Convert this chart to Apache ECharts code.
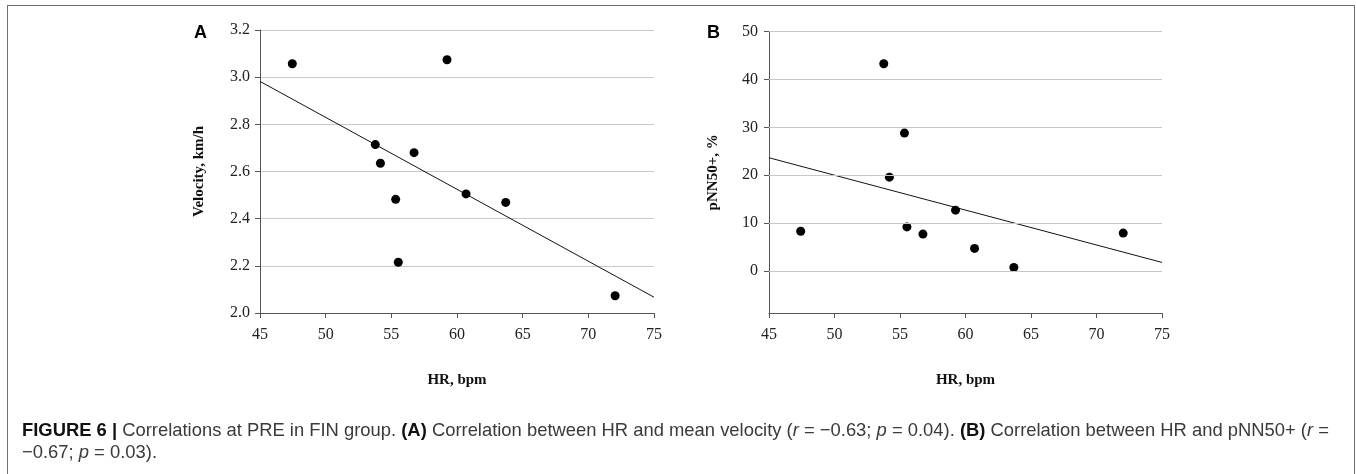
<!DOCTYPE html>
<html>
<head>
<meta charset="utf-8">
<script src="https://cdn.jsdelivr.net/npm/echarts@6/dist/echarts.min.js"></script>
<style>
  html, body { margin: 0; padding: 0; background: #fff; }
  #wrap { position: relative; width: 1357px; height: 474px; overflow: hidden; }
  #frame { position: absolute; left: 7px; top: 5px; width: 1348px; height: 520px; border: 1.5px solid #707070; box-sizing: border-box; }
  #chart { position: absolute; left: 0; top: 0; width: 1357px; height: 474px; }
  #caption { position: absolute; left: 22px; top: 419px; width: 1340px; white-space: nowrap; font-family: "Liberation Sans", Arial, sans-serif; font-size: 18.4px; line-height: 22px; color: #3a3a3a; }
  #caption b { color: #111; }
</style>
</head>
<body>
<div id="wrap">
  <div id="frame"></div>
  <div id="chart"></div>
  <div id="caption"><b>FIGURE 6 |</b> Correlations at PRE in FIN group. <b>(A)</b> Correlation between HR and mean velocity (<i>r</i> = −0.63; <i>p</i> = 0.04). <b>(B)</b> Correlation between HR and pNN50+ (<i>r</i> =<br>−0.67; <i>p</i> = 0.03).</div>
</div>
<script>
// ---- Data ----
const hrA = [47.46, 59.24, 53.78, 54.17, 56.73, 55.33, 55.53, 60.69, 63.71, 72.04];
const velocity = [3.057, 3.074, 2.714, 2.635, 2.680, 2.482, 2.215, 2.505, 2.469, 2.073];
const hrB = [47.42, 53.76, 55.34, 54.19, 55.53, 56.75, 59.24, 60.69, 63.69, 72.04];
const pnn50 = [8.3, 43.3, 28.8, 19.6, 9.2, 7.7, 12.7, 4.7, 0.7, 7.9];
const trendAx = [45, 75];
const trendAy = [2.982, 2.067];
const trendBx = [45, 75];
const trendBy = [23.65, 1.77];
const yTicksB = [0, 10, 20, 30, 40, 50];

const zip = (a, b) => a.map((v, i) => [v, b[i]]);

const serif = '"Liberation Serif", "Times New Roman", serif';
const axisColor = '#555';
const gridColor = '#c8c8c8';

function xAxisCfg(gridIndex) {
  return {
    type: 'value', gridIndex, min: 45, max: 75, interval: 5,
    name: 'HR, bpm', nameLocation: 'middle', nameGap: 60,
    nameTextStyle: { fontFamily: serif, fontWeight: 'bold', fontSize: 15, color: '#111' },
    axisLine: { show: true, onZero: false, lineStyle: { color: axisColor, width: 1 } },
    axisTick: { show: true, inside: false, length: 5, lineStyle: { color: axisColor } },
    axisLabel: { fontFamily: serif, fontSize: 16, color: '#222', margin: 14 },
    splitLine: { show: false }
  };
}

const option = {
  animation: false,
  grid: [
    { left: 260, top: 30, width: 394, height: 283 },
    { left: 769, top: 31.7, width: 393, height: 281.3 }
  ],
  xAxis: [xAxisCfg(0), xAxisCfg(1)],
  yAxis: [
    {
      type: 'value', gridIndex: 0, min: 2.0, max: 3.2, interval: 0.2,
      name: 'Velocity, km/h', nameLocation: 'middle', nameGap: 53,
      nameTextStyle: { fontFamily: serif, fontWeight: 'bold', fontSize: 15, color: '#111' },
      axisLine: { show: true, lineStyle: { color: axisColor, width: 1 } },
      axisTick: { show: true, inside: false, length: 5, lineStyle: { color: axisColor } },
      axisLabel: { fontFamily: serif, fontSize: 16, color: '#222', margin: 10, formatter: v => v.toFixed(1) },
      splitLine: { show: true, lineStyle: { color: gridColor, width: 1 } }
    },
    {
      type: 'value', gridIndex: 1, min: -8.8, max: 50,
      name: 'pNN50+, %', nameLocation: 'middle', nameGap: 48,
      nameTextStyle: { fontFamily: serif, fontWeight: 'bold', fontSize: 15, color: '#111' },
      axisLine: { show: true, lineStyle: { color: axisColor, width: 1 } },
      axisTick: { show: true, inside: false, length: 5, customValues: yTicksB, lineStyle: { color: axisColor } },
      axisLabel: { fontFamily: serif, fontSize: 16, color: '#222', margin: 11, customValues: yTicksB },
      splitLine: { show: false }
    }
  ],
  graphic: [
    { type: 'text', left: 194, top: 24, style: { text: 'A', font: 'bold 18px "Liberation Sans", Arial, sans-serif', fill: '#000' } },
    { type: 'text', left: 707, top: 24, style: { text: 'B', font: 'bold 18px "Liberation Sans", Arial, sans-serif', fill: '#000' } }
  ],
  series: [
    {
      type: 'line', xAxisIndex: 1, yAxisIndex: 1, data: [], z: 1, silent: true,
      markLine: {
        silent: true, symbol: 'none', label: { show: false },
        lineStyle: { color: gridColor, width: 1, type: 'solid' },
        data: yTicksB.map(v => ({ yAxis: v }))
      }
    },
    {
      type: 'line', xAxisIndex: 0, yAxisIndex: 0, data: zip(trendAx, trendAy), z: 2,
      showSymbol: false, lineStyle: { color: '#111', width: 1 }, silent: true
    },
    {
      type: 'line', xAxisIndex: 1, yAxisIndex: 1, data: zip(trendBx, trendBy), z: 2,
      showSymbol: false, lineStyle: { color: '#111', width: 1 }, silent: true
    },
    {
      type: 'scatter', xAxisIndex: 0, yAxisIndex: 0, data: zip(hrA, velocity), z: 3,
      symbolSize: 9, itemStyle: { color: '#000', opacity: 1 }
    },
    {
      type: 'scatter', xAxisIndex: 1, yAxisIndex: 1, data: zip(hrB, pnn50), z: 3,
      symbolSize: 9, itemStyle: { color: '#000', opacity: 1 }
    }
  ]
};

const chart = echarts.init(document.getElementById('chart'), null, { renderer: 'canvas' });
chart.setOption(option);
</script>
</body>
</html>
